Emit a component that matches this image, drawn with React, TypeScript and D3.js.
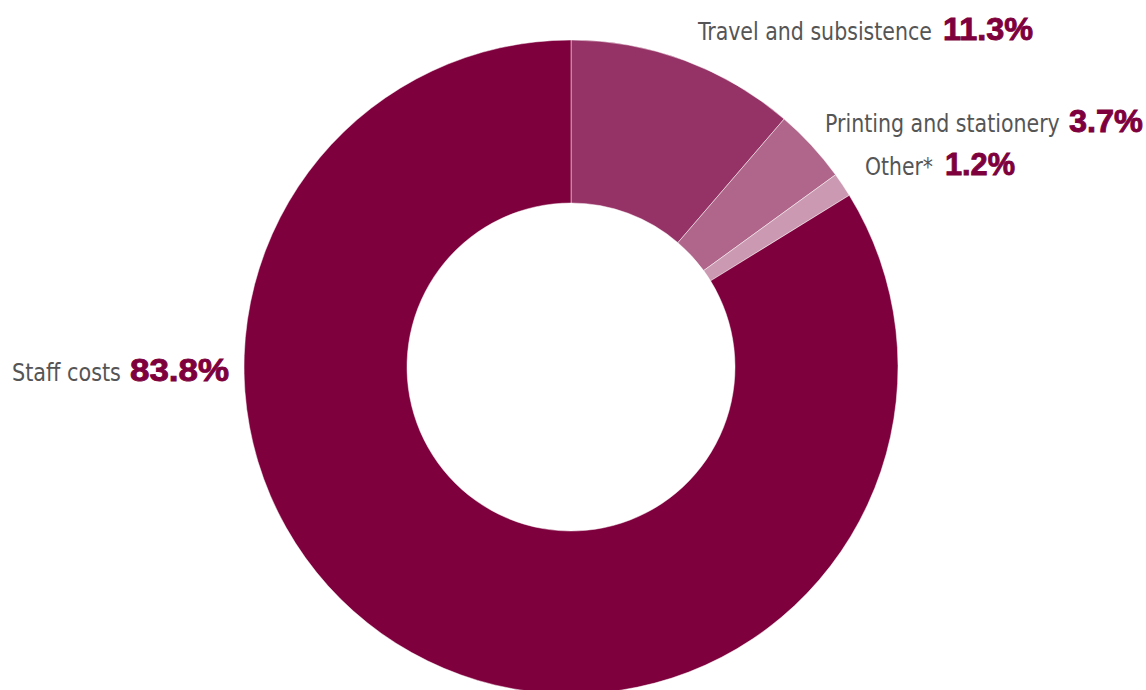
import React, { useLayoutEffect, useRef, useState } from "react";
import * as d3 from "d3";

const categories = ["Travel and subsistence", "Printing and stationery", "Other*", "Staff costs"];
const values = [11.3, 3.7, 1.2, 83.8];
const valueLabels = ["11.3%", "3.7%", "1.2%", "83.8%"];
const colors = ["#963366", "#b0668a", "#cb99b1", "#7e003c"];

// label layout: [nameX, nameWidth, valueX, valueWidth, baselineY]
const labelLayout = [
  [698, 234, 943, 90, 40],
  [825, 235, 1069, 74, 132],
  [865, 68, 945, 70, 175],
  [12, 109, 130, 99, 381],
];

const W = 1146;
const H = 690;
const cx = 571;
const cy = 367;
const outerR = 327;
const innerR = 164;

const nameFont = "'Liberation Sans Narrow', 'DejaVu Sans Condensed', 'Liberation Sans', sans-serif";
const valueFont = "'Liberation Sans', sans-serif";

export default function App() {
  const pie = d3.pie<number>().sort(null).value((d) => d)(values);
  const arc = d3.arc<d3.PieArcDatum<number>>().innerRadius(innerR).outerRadius(outerR);
  const nameRefs = useRef<(SVGTextElement | null)[]>([]);
  const valRefs = useRef<(SVGTextElement | null)[]>([]);
  const [scales, setScales] = useState<{ n: number[]; v: number[] }>({ n: [1, 1, 1, 1], v: [1, 1, 1, 1] });

  useLayoutEffect(() => {
    const n = labelLayout.map((l, i) => {
      const el = nameRefs.current[i];
      const w = el ? el.getComputedTextLength() : l[1];
      return w > 0 ? l[1] / w : 1;
    });
    const v = labelLayout.map((l, i) => {
      const el = valRefs.current[i];
      const w = el ? el.getComputedTextLength() : l[3];
      return w > 0 ? l[3] / w : 1;
    });
    setScales({ n, v });
  }, []);

  return (
    <svg width={W} height={H} style={{ position: "absolute", left: 0, top: 0 }}>
      <rect width={W} height={H} fill="#fff" />
      <g transform={`translate(${cx},${cy})`}>
        {pie.map((p, i) => (
          <path key={i} d={arc(p) || ""} fill={colors[i]} stroke="#ffffff" strokeOpacity={0.6} strokeWidth={0.8} />
        ))}
      </g>
      {categories.map((c, i) => {
        const [nx, , vx, , y] = labelLayout[i];
        return (
          <g key={c}>
            <g transform={`translate(${nx},${y}) scale(${scales.n[i]},1)`}>
              <text
                ref={(el) => { nameRefs.current[i] = el; }}
                x={0}
                y={0}
                fontFamily={nameFont}
                fontSize={25}
                fill="#555555"
              >
                {c}
              </text>
            </g>
            <g transform={`translate(${vx},${y}) scale(${scales.v[i]},1)`}>
              <text
                ref={(el) => { valRefs.current[i] = el; }}
                x={0}
                y={0}
                fontFamily={valueFont}
                fontWeight="bold"
                fontSize={32}
                fill="#7e003c"
                stroke="#7e003c"
                strokeWidth={0.9}
              >
                {valueLabels[i]}
              </text>
            </g>
          </g>
        );
      })}
    </svg>
  );
}
